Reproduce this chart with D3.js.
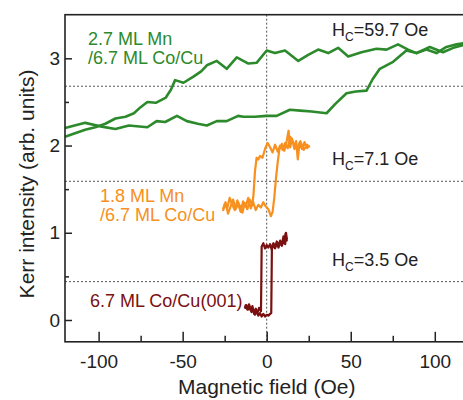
<!DOCTYPE html>
<html>
<head>
<meta charset="utf-8">
<script src="https://cdn.jsdelivr.net/npm/d3@7"></script>
<style>
  html, body { margin: 0; padding: 0; background: #fff; }
  svg { display: block; font-family: Arial, "Liberation Sans", sans-serif; }
</style>
</head>
<body>
<svg id="chart" width="463" height="400"></svg>
<script>
// Kerr hysteresis loops, field in Oe, intensity in arbitrary units

// 2.7 ML Mn / 6.7 ML Co/Cu : branch swept from + to - field
const greenDescField = [-120,-114,-108,-102,-96,-90,-84,-79,-75,-71,-66,-60,-57,-54.5,-49.5,-43.6,-39,-35.6,-29.7,-23.8,-17.8,-10.9,-5.9,0,4.9,10.9,18.8,24.7,30.6,36.6,42.5,48.5,56.4,65.3,71.3,78.1,84.1,89.1,95,101,106.9,113,120];
const greenDescValue = [2.10,2.14,2.18,2.21,2.25,2.31,2.33,2.37,2.44,2.50,2.49,2.55,2.64,2.75,2.72,2.79,2.85,2.92,2.97,2.88,3.01,2.94,2.95,3.09,3.06,3.09,2.97,3.04,3.10,3.06,3.12,3.02,3.07,3.11,3.10,3.16,3.10,3.06,3.10,3.06,3.13,3.16,3.18];
// branch swept from - to + field
const greenAscField = [-120,-108,-99,-90,-82,-71,-65.5,-60.4,-53.4,-47.5,-41,-35.6,-29.7,-23.8,-17,-13.9,-7,0,5.9,13.8,20,26.7,35.6,41,47.5,53,59.4,63,67.3,75.2,83.1,89.1,97,104.9,111,120];
const greenAscValue = [2.20,2.26,2.22,2.19,2.23,2.21,2.28,2.27,2.34,2.28,2.25,2.23,2.28,2.28,2.34,2.33,2.33,2.34,2.34,2.41,2.40,2.39,2.37,2.48,2.60,2.62,2.63,2.76,2.88,2.96,3.09,3.06,3.13,3.07,3.12,3.17];

// 1.8 ML Mn / 6.7 ML Co/Cu
const orangeAscField = [-26,-24.5,-23,-21.5,-20,-18.5,-17,-15.5,-14,-12.5,-11,-9.5,-8,-6.5,-5,-3.5,-2,-0.5,1,2.5,3.5,4.5,5.5,6.5,7.5,9,10.5,12,13,14,15,16.5,17.5,18.5,19.5,21,22.5,24,25.5];
const orangeAscValue = [1.25,1.35,1.22,1.30,1.38,1.27,1.33,1.24,1.36,1.30,1.40,1.28,1.35,1.26,1.32,1.29,1.35,1.30,1.27,1.19,1.24,1.40,1.62,1.80,1.95,2.02,1.94,2.06,2.17,1.98,2.08,1.96,2.05,1.84,2.02,1.96,2.04,1.97,2.00];
const orangeDescField = [25.5,24,22,20,18,16,14,12.5,11,9.5,8,6.5,5,3.5,2,0.5,-1,-2.5,-4,-5,-6,-7,-7.8,-8.5,-10,-11.5,-13,-14.5,-16,-17.5,-19,-20.5,-22,-23.5,-25,-26];
const orangeDescValue = [1.98,2.01,1.95,2.05,1.97,2.03,2.10,1.97,2.03,1.95,2.00,1.93,2.01,1.92,1.98,2.03,1.96,1.86,1.88,1.84,1.86,1.70,1.45,1.32,1.38,1.27,1.34,1.23,1.31,1.37,1.26,1.32,1.40,1.28,1.33,1.27];

// 6.7 ML Co/Cu(001)
const redAscField = [-13,-12,-11,-10,-9,-8,-7,-6,-5,-4,-3,-2,-1,0,1,2,2.7,2.9,3.1,4,5,6,7,8,9,10,10.6,11.2,12];
const redAscValue = [0.13,0.17,0.12,0.15,0.09,0.12,0.06,0.10,0.05,0.08,0.04,0.07,0.04,0.06,0.05,0.07,0.08,0.45,0.84,0.88,0.84,0.90,0.85,0.91,0.86,0.96,0.88,0.99,0.90];
const redDescField = [12,11.5,11,10,9,8,7,6,5,4,3,2,1,0,-1,-2,-3,-3.2,-3.4,-4.5,-5.5,-6.5,-7.5,-8.5,-9.5,-10.5,-11.5,-12.5,-13];
const redDescValue = [0.92,1.00,0.87,0.91,0.85,0.89,0.83,0.88,0.82,0.86,0.81,0.87,0.83,0.86,0.82,0.88,0.84,0.45,0.10,0.14,0.08,0.13,0.07,0.16,0.11,0.18,0.12,0.17,0.14];

// guide levels (loop mid-heights) and axis ticks
const midLevels = [2.68, 1.59, 0.44];
const xMajorTicks = [-100, -50, 0, 50, 100];
const xMinorTicks = [-75, -25, 25, 75];
const yMajorTicks = [0, 1, 2, 3];
const yMinorTicks = [0.5, 1.5, 2.5];

const coercivity = ["59.7", "7.1", "3.5"];

const colGreen = "#2c8a2c", colOrange = "#f7901e", colRed = "#7a1010";

const svg = d3.select("#chart");
const x = d3.scaleLinear().domain([-120, 120]).range([65, 468.4]);
const y = d3.scaleLinear().domain([-0.25, 3.5]).range([341.8, 14.7]);
const [x0, x1] = x.range();
const [yb, yt] = y.range();

// dotted guides
const guides = svg.append("g").attr("stroke", "#555").attr("stroke-width", 1).attr("stroke-dasharray", "2,2");
guides.selectAll("line.h").data(midLevels).join("line")
  .attr("class", "h")
  .attr("x1", x0).attr("x2", x1)
  .attr("y1", d => y(d)).attr("y2", d => y(d));
guides.append("line")
  .attr("x1", x(0)).attr("x2", x(0)).attr("y1", yt).attr("y2", yb);

// curves
const line = d3.line().x(d => x(d[0])).y(d => y(d[1]));
const zip = (a, b) => a.map((v, i) => [v, b[i]]);
const curves = [
  { pts: zip(greenDescField, greenDescValue), c: colGreen, w: 2.6 },
  { pts: zip(greenAscField, greenAscValue), c: colGreen, w: 2.6 },
  { pts: zip(orangeAscField, orangeAscValue), c: colOrange, w: 2.2 },
  { pts: zip(orangeDescField, orangeDescValue), c: colOrange, w: 2.2 },
  { pts: zip(redAscField, redAscValue), c: colRed, w: 2.2 },
  { pts: zip(redDescField, redDescValue), c: colRed, w: 2.2 }
];
svg.append("g").selectAll("path").data(curves).join("path")
  .attr("d", d => line(d.pts))
  .attr("fill", "none")
  .attr("stroke", d => d.c)
  .attr("stroke-width", d => d.w)
  .attr("stroke-linejoin", "round");

// axes with inward ticks
const gx = svg.append("g").attr("transform", `translate(0,${yb})`)
  .call(d3.axisBottom(x).tickValues(xMajorTicks).tickSizeInner(-10).tickSizeOuter(0).tickPadding(13).tickFormat(d3.format("d")));
svg.append("g").attr("transform", `translate(0,${yb})`)
  .call(d3.axisBottom(x).tickValues(xMinorTicks).tickSizeInner(-6).tickSizeOuter(0).tickFormat(""));
const gy = svg.append("g").attr("transform", `translate(${x0},0)`)
  .call(d3.axisLeft(y).tickValues(yMajorTicks).tickSizeInner(-7).tickSizeOuter(0).tickPadding(5).tickFormat(d3.format("d")));
svg.append("g").attr("transform", `translate(${x0},0)`)
  .call(d3.axisLeft(y).tickValues(yMinorTicks).tickSizeInner(-4).tickSizeOuter(0).tickFormat(""));
svg.selectAll(".domain").remove();
svg.selectAll(".tick line").attr("stroke", "#222").attr("stroke-width", 1.5);
svg.selectAll(".tick text").attr("font-size", 19).attr("fill", "#222")
  .attr("font-family", "Arial, 'Liberation Sans', sans-serif")
  .text(function () { return this.textContent.replace("\u2212", "-"); });

// frame
svg.append("rect")
  .attr("x", x0).attr("y", yt).attr("width", x1 - x0).attr("height", yb - yt)
  .attr("fill", "none").attr("stroke", "#222").attr("stroke-width", 1.6);

// axis titles
svg.append("text").attr("x", x(0)).attr("y", 394).attr("text-anchor", "middle")
  .attr("font-size", 21).attr("fill", "#222").text("Magnetic field (Oe)");
svg.append("text").attr("transform", "translate(34,184) rotate(-90)").attr("text-anchor", "middle")
  .attr("font-size", 21).attr("fill", "#222").text("Kerr intensity (arb. units)");

// sample labels
const labels = [
  { t: "2.7 ML Mn", x: 88, y: 45, c: colGreen },
  { t: "/6.7 ML Co/Cu", x: 88, y: 64, c: colGreen },
  { t: "1.8 ML Mn", x: 100, y: 202, c: colOrange },
  { t: "/6.7 ML Co/Cu", x: 100, y: 221, c: colOrange },
  { t: "6.7 ML Co/Cu(001)", x: 90, y: 307, c: colRed }
];
svg.append("g").selectAll("text").data(labels).join("text")
  .attr("x", d => d.x).attr("y", d => d.y).attr("fill", d => d.c)
  .attr("font-size", 18).text(d => d.t);

// coercive field labels
const hcY = [36, 165, 266];
coercivity.forEach((v, i) => {
  const t = svg.append("text").attr("x", 332).attr("y", hcY[i]).attr("font-size", 18).attr("fill", "#222");
  t.append("tspan").text("H");
  t.append("tspan").attr("font-size", 12).attr("dy", 5).text("C");
  t.append("tspan").attr("dy", -5).text("=" + v + " Oe");
});
</script>
</body>
</html>
